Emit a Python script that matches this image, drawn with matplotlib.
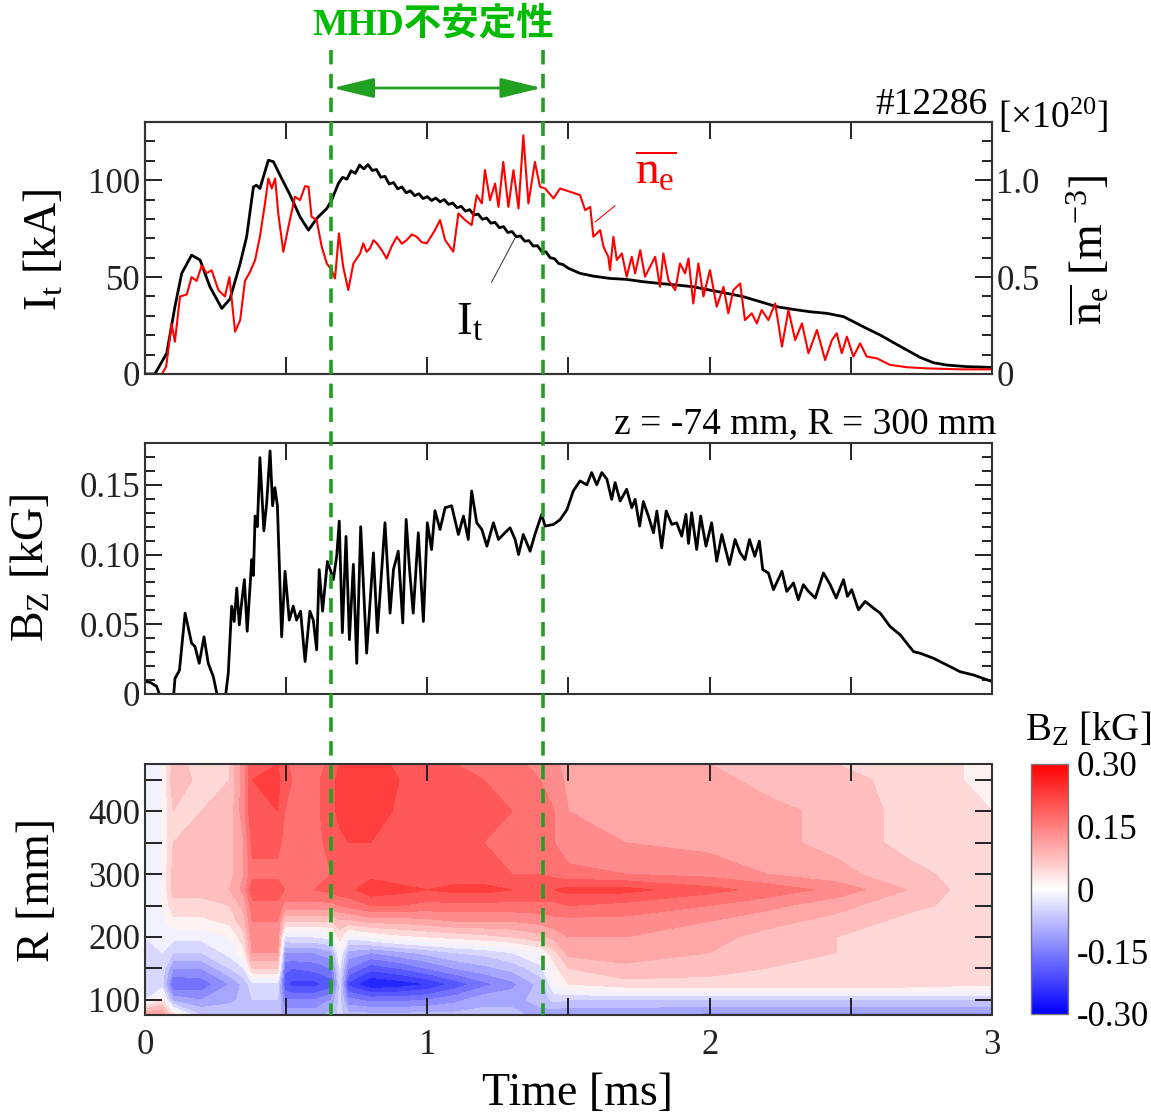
import numpy as np
import matplotlib
matplotlib.use('Agg')
import matplotlib.pyplot as plt
import matplotlib.transforms as mtransforms
from matplotlib.lines import Line2D
from matplotlib.patches import FancyArrowPatch
from matplotlib.ticker import MultipleLocator
from matplotlib.cm import ScalarMappable
from matplotlib.colors import Normalize

plt.rcParams['font.family'] = ['Liberation Serif', 'Noto Sans CJK JP']
plt.rcParams['mathtext.fontset'] = 'custom'
plt.rcParams['mathtext.rm'] = 'Liberation Serif'
plt.rcParams['mathtext.it'] = 'Liberation Serif:italic'
plt.rcParams['mathtext.default'] = 'regular'

# ---- data ----
shot = '#12286'
mhd_start, mhd_end = 0.66, 1.41
time_ticks = [0, 1, 2, 3]
time_labels = ['0', '1', '2', '3']

# plasma current I_t [kA]
t_it = [0, 0.035, 0.077, 0.106, 0.130, 0.165, 0.195, 0.230, 0.272, 0.301, 0.337, 0.360, 0.384, 0.395,
        0.407, 0.437, 0.455, 0.478, 0.514, 0.549, 0.579, 0.608, 0.644, 0.661, 0.685, 0.700, 0.715, 0.730,
        0.745, 0.760, 0.775, 0.790, 0.805, 0.820, 0.835, 0.850, 0.865, 0.880, 0.895, 0.910, 0.925, 0.940,
        0.955, 0.970, 0.985, 1.000, 1.015, 1.030, 1.045, 1.060, 1.075, 1.090, 1.105, 1.120, 1.135, 1.150,
        1.165, 1.180, 1.195, 1.210, 1.225, 1.240, 1.255, 1.270, 1.285, 1.300, 1.315, 1.330, 1.345, 1.360,
        1.375, 1.390, 1.405, 1.420, 1.435, 1.450, 1.465, 1.480, 1.500, 1.541, 1.588, 1.647, 1.706, 1.765,
        1.824, 1.883, 1.942, 2.001, 2.061, 2.119, 2.179, 2.238, 2.297, 2.356, 2.415, 2.474, 2.509, 2.556,
        2.604, 2.651, 2.698, 2.745, 2.793, 2.840, 2.911, 3.0]
it_ka = [0, 0, 10.7, 34.7, 51.9, 61.3, 58.8, 45.0, 33.8, 38.7, 57.0, 70.8, 96.5, 97.4,
         95.7, 110.3, 109.5, 102.6, 92.3, 81.1, 74.2, 80.2, 85.4, 89.7, 98.3, 101.5, 100.5, 104.8,
         103.5, 107.8, 105.8, 108.0, 105.0, 105.5, 101.5, 102.0, 98.0, 98.8, 95.5, 96.5, 93.5, 94.5,
         92.0, 93.0, 90.5, 91.5, 89.5, 90.8, 88.8, 90.0, 87.5, 88.2, 85.8, 86.5, 84.0, 84.8,
         82.0, 82.5, 79.8, 80.5, 77.8, 78.2, 75.5, 76.0, 73.0, 73.5, 70.8, 71.2, 68.5, 68.8,
         66.0, 66.2, 63.2, 63.0, 60.0, 59.5, 57.0, 56.5, 54.5, 51.9, 50.5, 49.3, 48.8, 47.6,
         46.7, 45.9, 45.0, 43.3, 41.6, 39.9, 37.3, 34.7, 33.3, 32.1, 31.3, 29.6, 27.0, 23.5,
         20.1, 16.2, 12.4, 8.6, 5.8, 4.6, 3.8, 3.4]

# line-averaged density n_e [10^20 m^-3]
t_ne = [0, 0.060, 0.075, 0.094, 0.106, 0.124, 0.148, 0.165, 0.183, 0.201, 0.218, 0.236, 0.260, 0.283,
        0.299, 0.319, 0.337, 0.354, 0.372, 0.390, 0.407, 0.425, 0.437, 0.449, 0.461, 0.472, 0.490, 0.508,
        0.531, 0.549, 0.567, 0.579, 0.590, 0.608, 0.626, 0.644, 0.661, 0.673, 0.687, 0.702, 0.720, 0.738,
        0.762, 0.773, 0.785, 0.797, 0.809, 0.821, 0.838, 0.856, 0.874, 0.892, 0.910, 0.927, 0.945, 0.962,
        0.980, 0.998, 1.027, 1.045, 1.063, 1.092, 1.110, 1.134, 1.157, 1.175, 1.193, 1.204, 1.222, 1.240,
        1.252, 1.269, 1.287, 1.305, 1.323, 1.340, 1.358, 1.381, 1.399, 1.417, 1.447, 1.470, 1.506, 1.541,
        1.559, 1.577, 1.588, 1.612, 1.624, 1.641, 1.647, 1.659, 1.671, 1.689, 1.706, 1.724, 1.736, 1.754,
        1.771, 1.789, 1.807, 1.824, 1.836, 1.854, 1.878, 1.895, 1.913, 1.925, 1.942, 1.960, 1.978, 2.001,
        2.025, 2.049, 2.066, 2.084, 2.108, 2.125, 2.149, 2.167, 2.184, 2.208, 2.232, 2.256, 2.279, 2.303,
        2.327, 2.350, 2.380, 2.409, 2.433, 2.450, 2.468, 2.486, 2.509, 2.533, 2.556, 2.592, 2.639, 2.698,
        2.769, 2.887, 3.0]
ne_e20 = [0, 0, 0.038, 0.26, 0.167, 0.40, 0.41, 0.50, 0.48, 0.56, 0.52, 0.535, 0.433, 0.40,
          0.50, 0.218, 0.278, 0.48, 0.527, 0.588, 0.708, 0.88, 1.009, 0.957, 1.009, 0.828, 0.63, 0.76,
          0.914, 0.897, 0.969, 0.966, 0.811, 0.794, 0.656, 0.57, 0.536, 0.493, 0.725, 0.553, 0.433, 0.57,
          0.622, 0.674, 0.630, 0.648, 0.690, 0.674, 0.640, 0.596, 0.660, 0.708, 0.672, 0.691, 0.720, 0.708,
          0.680, 0.674, 0.742, 0.794, 0.691, 0.631, 0.828, 0.794, 0.768, 0.923, 0.88, 1.052, 0.897, 0.983,
          0.862, 1.094, 0.862, 1.052, 0.854, 1.232, 0.88, 1.094, 0.966, 0.957, 0.906, 0.957, 0.940, 0.923,
          0.845, 0.862, 0.708, 0.742, 0.656, 0.605, 0.536, 0.708, 0.588, 0.622, 0.502, 0.605, 0.519, 0.639,
          0.502, 0.553, 0.605, 0.45, 0.622, 0.484, 0.433, 0.57, 0.519, 0.596, 0.364, 0.57, 0.40, 0.536,
          0.347, 0.45, 0.313, 0.433, 0.467, 0.278, 0.313, 0.261, 0.33, 0.278, 0.364, 0.141, 0.33, 0.175,
          0.261, 0.107, 0.227, 0.072, 0.175, 0.21, 0.107, 0.193, 0.09, 0.158, 0.09, 0.081, 0.047, 0.035,
          0.029, 0.024, 0.024]

# B_z at z = -74 mm, R = 300 mm [kG]
t_bz = [0, 0.018, 0.041, 0.065, 0.100, 0.106, 0.122, 0.142, 0.165, 0.177, 0.192, 0.209, 0.224, 0.242,
        0.260, 0.283, 0.295, 0.307, 0.316, 0.325, 0.334, 0.342, 0.352, 0.362, 0.378, 0.384, 0.390, 0.398,
        0.407, 0.421, 0.431, 0.443, 0.452, 0.460, 0.469, 0.484, 0.496, 0.511, 0.525, 0.537, 0.551, 0.567,
        0.584, 0.596, 0.608, 0.617, 0.629, 0.646, 0.658, 0.667, 0.679, 0.688, 0.699, 0.712, 0.724, 0.738,
        0.750, 0.764, 0.785, 0.809, 0.823, 0.850, 0.868, 0.880, 0.897, 0.913, 0.925, 0.937, 0.950, 0.968,
        0.986, 1.000, 1.015, 1.027, 1.045, 1.063, 1.086, 1.110, 1.128, 1.145, 1.157, 1.175, 1.193, 1.211,
        1.234, 1.252, 1.269, 1.293, 1.311, 1.323, 1.340, 1.364, 1.381, 1.405, 1.417, 1.447, 1.470, 1.494,
        1.517, 1.541, 1.565, 1.582, 1.600, 1.618, 1.636, 1.653, 1.665, 1.683, 1.706, 1.724, 1.736, 1.752,
        1.765, 1.783, 1.801, 1.813, 1.830, 1.846, 1.866, 1.883, 1.901, 1.916, 1.925, 1.936, 1.954, 1.968,
        1.987, 2.007, 2.025, 2.043, 2.070, 2.090, 2.108, 2.125, 2.141, 2.160, 2.176, 2.188, 2.208, 2.226,
        2.256, 2.273, 2.297, 2.314, 2.332, 2.350, 2.374, 2.403, 2.427, 2.448, 2.474, 2.488, 2.503, 2.527,
        2.551, 2.580, 2.604, 2.639, 2.675, 2.722, 2.746, 2.793, 2.840, 2.887, 2.935, 3.0]
bz_kg = [0.0089, 0.0084, 0.0055, -0.008, -0.005, 0.011, 0.017, 0.058, 0.0365, 0.034, 0.022, 0.041, 0.022, 0.0124,
         -0.005, -0.005, 0.015, 0.063, 0.052, 0.076, 0.0496, 0.065, 0.082, 0.045, 0.0964, 0.085, 0.1276, 0.120,
         0.1695, 0.117, 0.137, 0.1743, 0.135, 0.148, 0.135, 0.041, 0.088, 0.053, 0.063, 0.053, 0.0594, 0.0233,
         0.0594, 0.053, 0.0317, 0.0892, 0.0594, 0.095, 0.088, 0.082, 0.099, 0.124, 0.044, 0.113, 0.039, 0.093,
         0.022, 0.120, 0.0293, 0.1012, 0.044, 0.1228, 0.058, 0.0892, 0.1024, 0.051, 0.1252, 0.0892, 0.058, 0.1156,
         0.052, 0.1228, 0.1036, 0.1315, 0.118, 0.1336, 0.135, 0.1144, 0.1276, 0.1108, 0.1456, 0.1228, 0.118, 0.106,
         0.1228, 0.1108, 0.1144, 0.1192, 0.1108, 0.100, 0.1144, 0.1024, 0.1144, 0.1288, 0.1204, 0.1216, 0.125, 0.132,
         0.1456, 0.1528, 0.150, 0.1588, 0.150, 0.1588, 0.154, 0.1396, 0.1516, 0.1384, 0.1468, 0.1336, 0.1396, 0.1204,
         0.138, 0.1276, 0.1156, 0.1312, 0.1048, 0.1312, 0.1216, 0.1228, 0.1132, 0.1288, 0.108, 0.130, 0.1036, 0.1276,
         0.106, 0.1228, 0.0952, 0.1144, 0.0928, 0.1108, 0.1012, 0.0964, 0.1108, 0.0988, 0.1096, 0.0892, 0.0868, 0.0748,
         0.088, 0.0736, 0.0796, 0.0676, 0.0784, 0.0736, 0.0688, 0.0868, 0.0784, 0.0688, 0.082, 0.070, 0.0748, 0.0604,
         0.0664, 0.0616, 0.058, 0.0484, 0.0424, 0.0304, 0.0292, 0.0256, 0.0208, 0.016, 0.0136, 0.0089]

# B_z(R, t) map [kG], one row per radius
t_map = [0, 0.06, 0.1, 0.2, 0.3, 0.35, 0.38, 0.47, 0.495, 0.52, 0.6, 0.66, 0.69, 0.72, 0.8, 0.9,
         1.0, 1.1, 1.2, 1.3, 1.4, 1.45, 1.5, 1.7, 2.0, 2.2, 2.45, 2.7, 2.9, 3.0]
r_map = [76, 100, 125, 150, 175, 200, 225, 250, 275, 300, 350, 400, 450, 475]
bz_map = [
    [0.12, 0.12, 0.04, -0.06, -0.06, -0.06, -0.06, -0.08, -0.1, -0.1, -0.1, -0.08, -0.05, -0.08, -0.08, -0.08,
     -0.08, -0.08, -0.08, -0.08, -0.1, -0.12, -0.12, -0.12, -0.13, -0.13, -0.13, -0.13, -0.13, -0.13],
    [-0.03, 0.03, -0.1, -0.12, -0.1, -0.08, -0.06, -0.06, -0.15, -0.15, -0.15, -0.12, -0.05, -0.14, -0.16, -0.16,
     -0.15, -0.13, -0.1, -0.1, -0.08, -0.05, -0.06, -0.06, -0.06, -0.06, -0.06, -0.06, -0.06, -0.06],
    [-0.03, -0.05, -0.18, -0.17, -0.12, -0.08, -0.04, -0.04, -0.2, -0.22, -0.22, -0.2, -0.05, -0.22, -0.27, -0.26,
     -0.24, -0.2, -0.16, -0.13, -0.08, 0.0, 0.03, 0.05, 0.05, 0.05, 0.05, 0.05, 0.04, 0.04],
    [-0.03, -0.04, -0.12, -0.12, -0.06, -0.03, 0.06, 0.06, -0.17, -0.18, -0.17, -0.15, -0.03, -0.15, -0.2, -0.18,
     -0.15, -0.12, -0.1, -0.08, -0.04, 0.02, 0.06, 0.08, 0.07, 0.06, 0.05, 0.04, 0.03, 0.03],
    [-0.03, -0.03, -0.06, -0.06, -0.02, 0.02, 0.12, 0.12, -0.12, -0.12, -0.12, -0.1, 0.0, -0.1, -0.12, -0.1,
     -0.08, -0.06, -0.05, -0.03, 0.0, 0.05, 0.1, 0.11, 0.09, 0.07, 0.06, 0.03, 0.03, 0.04],
    [-0.03, -0.02, -0.02, -0.02, 0.0, 0.05, 0.14, 0.14, -0.04, -0.03, -0.03, -0.02, 0.04, -0.02, 0.0, 0.02,
     0.03, 0.04, 0.05, 0.06, 0.08, 0.1, 0.12, 0.12, 0.1, 0.08, 0.06, 0.03, 0.03, 0.05],
    [-0.03, -0.01, 0.02, 0.02, 0.04, 0.08, 0.15, 0.15, 0.06, 0.06, 0.06, 0.06, 0.08, 0.08, 0.1, 0.1,
     0.11, 0.12, 0.12, 0.12, 0.13, 0.14, 0.14, 0.14, 0.12, 0.1, 0.08, 0.05, 0.04, 0.05],
    [-0.03, 0.0, 0.05, 0.05, 0.06, 0.1, 0.17, 0.17, 0.14, 0.14, 0.14, 0.14, 0.15, 0.16, 0.18, 0.18,
     0.17, 0.17, 0.17, 0.17, 0.17, 0.17, 0.18, 0.17, 0.15, 0.13, 0.1, 0.07, 0.05, 0.05],
    [-0.03, 0.0, 0.07, 0.07, 0.09, 0.13, 0.2, 0.2, 0.18, 0.18, 0.18, 0.19, 0.2, 0.2, 0.23, 0.22,
     0.21, 0.22, 0.22, 0.21, 0.21, 0.21, 0.22, 0.22, 0.19, 0.17, 0.14, 0.09, 0.05, 0.05],
    [-0.03, 0.0, 0.07, 0.07, 0.08, 0.12, 0.17, 0.17, 0.17, 0.17, 0.17, 0.18, 0.18, 0.19, 0.2, 0.19,
     0.19, 0.19, 0.19, 0.18, 0.18, 0.17, 0.16, 0.15, 0.14, 0.12, 0.1, 0.07, 0.05, 0.03],
    [-0.03, 0.0, 0.06, 0.07, 0.08, 0.12, 0.19, 0.19, 0.17, 0.17, 0.17, 0.19, 0.2, 0.21, 0.21, 0.19,
     0.18, 0.18, 0.18, 0.17, 0.17, 0.15, 0.13, 0.12, 0.11, 0.1, 0.08, 0.05, 0.04, 0.03],
    [-0.03, 0.0, 0.06, 0.06, 0.07, 0.14, 0.21, 0.21, 0.18, 0.17, 0.17, 0.2, 0.22, 0.23, 0.24, 0.2,
     0.19, 0.19, 0.19, 0.18, 0.16, 0.15, 0.12, 0.12, 0.11, 0.1, 0.08, 0.05, 0.04, 0.03],
    [-0.03, 0.0, 0.08, 0.05, 0.06, 0.14, 0.21, 0.22, 0.19, 0.18, 0.17, 0.2, 0.22, 0.23, 0.24, 0.21,
     0.19, 0.19, 0.18, 0.17, 0.15, 0.14, 0.11, 0.11, 0.1, 0.08, 0.07, 0.05, 0.03, 0.02],
    [-0.03, 0.0, 0.07, 0.05, 0.06, 0.14, 0.21, 0.21, 0.19, 0.17, 0.16, 0.19, 0.21, 0.22, 0.23, 0.2,
     0.18, 0.18, 0.17, 0.16, 0.14, 0.13, 0.1, 0.1, 0.09, 0.07, 0.06, 0.04, 0.03, 0.02],
]

# ---- figure ----
W, H = 1151, 1116
fig = plt.figure(figsize=(W / 100, H / 100), dpi=100)


def box(l, t, r, b):
    return [l / W, 1 - b / H, (r - l) / W, (b - t) / H]


def fx(x):
    return x / W


def fy(y):
    return 1 - y / H


green_txt = '#00bb00'
green_ln = '#22a022'
tick_fs = 25
lab_fs = 33

ax1 = fig.add_axes(box(145, 122, 992, 374))
ax2 = fig.add_axes(box(145, 443, 992, 694))
ax3 = fig.add_axes(box(145, 764, 992, 1015))
cax = fig.add_axes(box(1031, 764, 1068, 1014))

for ax in (ax1, ax2, ax3):
    ax.set_xlim(0, 3)
    ax.set_xticks(time_ticks)
    ax.xaxis.set_minor_locator(MultipleLocator(0.5))
    ax.tick_params(which='both', direction='in', top=True, right=True, width=1.4,
                   labelsize=tick_fs, colors='#222222')
    ax.tick_params(which='major', length=12)
    ax.tick_params(which='minor', length=7)
    ax.tick_params(axis='x', which='minor', length=12)
    for s in ax.spines.values():
        s.set_linewidth(1.5)
        s.set_color('#333333')
    if ax is ax3:
        ax.set_xticklabels(time_labels)
    else:
        ax.set_xticklabels([])

# top panel: I_t and n_e
ax1.plot(t_it, it_ka, color='black', lw=2.0)
ax1.set_ylim(0, 130)
ax1.set_yticks([0, 50, 100])
ax1.set_yticklabels(['0', '50', '100'])
ax1.yaxis.set_minor_locator(MultipleLocator(10))
ax1.tick_params(right=False, which='both')
ax1r = ax1.twinx()
ax1r.plot(t_ne, ne_e20, color='red', lw=1.5)
ax1r.set_ylim(0, 1.3)
ax1r.set_yticks([0, 0.5, 1.0])
ax1r.set_yticklabels(['0', '0.5', '1.0'])
ax1r.yaxis.set_minor_locator(MultipleLocator(0.1))
ax1r.tick_params(which='both', direction='in', width=1.4, labelsize=tick_fs, colors='#222222', pad=3)
ax1r.tick_params(which='major', length=12)
ax1r.tick_params(which='minor', length=7)
ax1r.set_xlim(0, 3)
for s in ax1r.spines.values():
    s.set_linewidth(1.5)
    s.set_color('#333333')

ax1.annotate('I$_t$', xy=(1.31, 70), xytext=(1.15, 26), fontsize=34, color='black',
             ha='center', va='center',
             arrowprops=dict(arrowstyle='-', color='#444444', lw=0.8, shrinkA=14, shrinkB=0))
ax1r.annotate(r'$\overline{n_e}$', xy=(1.594, 0.784), xytext=(1.81, 1.04), fontsize=34, color='red',
              ha='center', va='center',
              arrowprops=dict(arrowstyle='-', color='red', lw=0.8, shrinkA=16, shrinkB=0))

# middle panel: B_z
ax2.plot(t_bz, bz_kg, color='black', lw=2.0)
ax2.set_ylim(0, 0.18)
ax2.set_yticks([0, 0.05, 0.10, 0.15])
ax2.set_yticklabels(['0', '0.05', '0.10', '0.15'])
ax2.yaxis.set_minor_locator(MultipleLocator(0.01))

# bottom panel: B_z map
levels = np.linspace(-0.3, 0.3, 21)
ax3.contourf(t_map, r_map, bz_map, levels=levels, cmap='bwr', vmin=-0.3, vmax=0.3)
ax3.set_ylim(76, 475)
ax3.set_yticks([100, 200, 300, 400])
ax3.set_yticklabels(['100', '200', '300', '400'])
ax3.yaxis.set_minor_locator(MultipleLocator(50))
ax3.tick_params(axis='y', which='minor', length=12)
ax3.tick_params(axis='x', pad=10)

sm = ScalarMappable(norm=Normalize(-0.3, 0.3), cmap='bwr')
cb = fig.colorbar(sm, cax=cax)
cb.set_ticks([0.3, 0.15, 0, -0.15, -0.3])
cb.set_ticklabels(['0.30', '0.15', '0', '-0.15', '-0.30'])
cb.ax.tick_params(length=0, labelsize=tick_fs, pad=6)
cb.outline.set_linewidth(1.0)
cb.outline.set_edgecolor('#777777')

# labels
fig.text(fx(45), fy(250), 'I$_t$ [kA]', rotation=90, ha='center', va='center', fontsize=lab_fs)
fig.text(fx(1090), fy(250), r'$\overline{n_e}$ [m$^{-3}$]', rotation=90, ha='center', va='center',
         fontsize=lab_fs)
fig.text(fx(32), fy(568), 'B$_Z$ [kG]', rotation=90, ha='center', va='center', fontsize=lab_fs)
fig.text(fx(38), fy(890), 'R [mm]', rotation=90, ha='center', va='center', fontsize=lab_fs)
fig.text(fx(577), fy(1094), 'Time [ms]', ha='center', va='center', fontsize=lab_fs)
fig.text(fx(988), fy(114), shot, ha='right', va='baseline', fontsize=27)
fig.text(fx(998), fy(128), r'[$\times$10$^{20}$]', ha='left', va='baseline', fontsize=27)
fig.text(fx(996), fy(433), 'z = -74 mm, R = 300 mm', ha='right', va='baseline', fontsize=27)
fig.text(fx(1088), fy(730), 'B$_Z$ [kG]', ha='center', va='center', fontsize=28)

# MHD instability window
blend = mtransforms.blended_transform_factory(ax3.transData, fig.transFigure)
for t in (mhd_start, mhd_end):
    fig.add_artist(Line2D([t, t], [fy(50), fy(1015)], transform=blend, color=green_ln,
                          lw=2.6, linestyle=(0, (4, 2.6))))
arrow = FancyArrowPatch((mhd_start, fy(88)), (mhd_end, fy(88)), transform=blend,
                        arrowstyle='<|-|>,head_length=1.4,head_width=0.34', mutation_scale=18,
                        color=green_ln, lw=2, shrinkA=1, shrinkB=1)
fig.add_artist(arrow)
fig.text(fx(433), fy(25), 'MHD不安定性', ha='center', va='center', fontsize=27, fontweight='bold',
         color=green_txt)

fig.savefig('out.png', dpi=100)
